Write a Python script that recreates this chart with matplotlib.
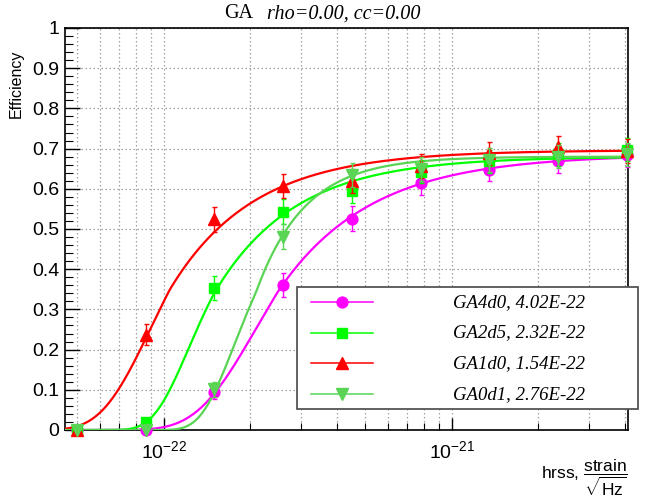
import math
import numpy as np
import matplotlib
matplotlib.use("Agg")
import matplotlib.pyplot as plt
from matplotlib.ticker import LogLocator, FixedLocator, MultipleLocator, FuncFormatter, NullFormatter
from matplotlib.patches import Rectangle
from matplotlib.lines import Line2D

# ---------------- data ----------------
hrss = [5.0e-23, 8.66e-23, 1.5e-22, 2.6e-22, 4.5e-22, 7.79e-22, 1.35e-21, 2.34e-21, 4.05e-21]

series_names = ["GA4d0", "GA2d5", "GA1d0", "GA0d1"]
hrss50_text = ["4.02E-22", "2.32E-22", "1.54E-22", "2.76E-22"]

eff_GA4d0 = [0.0, 0.0, 0.094, 0.361, 0.525, 0.615, 0.648, 0.668, 0.683]
err_GA4d0 = [0.0, 0.0, 0.018, 0.029, 0.031, 0.030, 0.029, 0.029, 0.029]
eff_GA2d5 = [0.0, 0.019, 0.353, 0.543, 0.595, 0.643, 0.668, 0.686, 0.697]
err_GA2d5 = [0.0, 0.009, 0.029, 0.031, 0.030, 0.029, 0.029, 0.029, 0.029]
eff_GA1d0 = [0.0, 0.237, 0.524, 0.608, 0.619, 0.657, 0.688, 0.703, 0.694]
err_GA1d0 = [0.0, 0.026, 0.031, 0.030, 0.030, 0.029, 0.029, 0.028, 0.029]
eff_GA0d1 = [0.0, 0.0, 0.101, 0.481, 0.634, 0.649, 0.672, 0.680, 0.686]
err_GA0d1 = [0.0, 0.0, 0.019, 0.031, 0.030, 0.030, 0.029, 0.029, 0.029]

# fit parameters (plateau, log10 centre, lower width, lower width slope, upper tail width)
fit_plateau = [0.685, 0.680, 0.696, 0.680]
fit_center = [-21.605, -21.825, -21.980, -21.681]
fit_sig_lo = [0.235, 0.200, 0.200, 0.175]
fit_k_lo = [0.8, 2.0, 1.0, 2.0]
fit_sig_hi = [0.32, 0.28, 0.29, 0.17]

colors = ["#ff00ff", "#00ff00", "#ff0000", "#59d454"]
markers = ["o", "s", "^", "v"]
msizes = [7.8, 7.0, 8.0, 8.0]

effs = [eff_GA4d0, eff_GA2d5, eff_GA1d0, eff_GA0d1]
errs = [err_GA4d0, err_GA2d5, err_GA1d0, err_GA0d1]

title_main = "GA"
title_sub = "rho=0.00, cc=0.00"
ylabel = "Efficiency"

# ---------------- style ----------------
plt.rcParams['font.family'] = ['Liberation Sans', 'DejaVu Sans']
plt.rcParams['mathtext.fontset'] = 'custom'
plt.rcParams['mathtext.rm'] = 'Liberation Sans'
plt.rcParams['mathtext.it'] = 'Liberation Sans:italic'
plt.rcParams['mathtext.bf'] = 'Liberation Sans:bold'

W, H = 649, 501
fig = plt.figure(figsize=(W / 100, H / 100), dpi=100)
fig.patch.set_facecolor('white')

L, R, T, B = 65, 627.5, 28, 430
ax = fig.add_axes([L / W, 1 - B / H, (R - L) / W, (B - T) / H])

xmin, xmax = 4.54e-23, 4.077e-21
ax.set_xscale('log')
ax.set_xlim(xmin, xmax)
ax.set_ylim(0, 1)

# grid
grid_kw = dict(color='#a0a0a0', linestyle=(0, (1.2, 2.0)), linewidth=0.9)
ax.xaxis.set_major_locator(FixedLocator([1e-22, 1e-21]))
ax.xaxis.set_minor_locator(LogLocator(base=10, subs=np.arange(2, 10)))
ax.xaxis.set_minor_formatter(NullFormatter())
ax.xaxis.set_major_formatter(FuncFormatter(lambda v, p: r'$10^{%d}$' % int(round(math.log10(v)))))
ax.yaxis.set_major_locator(MultipleLocator(0.1))
ax.yaxis.set_minor_locator(MultipleLocator(0.02))
ax.yaxis.set_major_formatter(FuncFormatter(lambda v, p: '%g' % round(v, 2)))
ax.grid(True, which='both', axis='x', **grid_kw)
ax.grid(True, which='major', axis='y', **grid_kw)
ax.set_axisbelow(True)

ax.tick_params(axis='both', which='both', direction='in', top=False, right=False, colors='black')
ax.tick_params(axis='y', which='major', length=11, width=1.0, pad=4, labelsize=14)
ax.tick_params(axis='y', which='minor', length=5.5, width=0.8)
ax.tick_params(axis='x', which='major', length=9, width=1.0, pad=7, labelsize=14)
ax.tick_params(axis='x', which='minor', length=5, width=0.8)
for s in ax.spines.values():
    s.set_linewidth(1.2)
    s.set_color('black')

# ---------------- fit curves ----------------
def phi(z):
    return 0.5 * (1.0 + np.vectorize(math.erf)(z / math.sqrt(2.0)))

def fit_curve(u, P, u0, s_lo, k_lo, s_hi):
    y = u - u0
    out = np.empty_like(y)
    lo = y < 0
    out[lo] = P * phi(y[lo] / (s_lo * np.exp(k_lo * y[lo])))
    out[~lo] = P * (1.0 - 0.5 * np.exp(-y[~lo] / s_hi))
    return out

u = np.linspace(math.log10(xmin), math.log10(xmax), 600)
xs = 10 ** u

for i in range(4):
    yfit = fit_curve(u, fit_plateau[i], fit_center[i], fit_sig_lo[i], fit_k_lo[i], fit_sig_hi[i])
    ax.plot(xs, yfit, color=colors[i], lw=1.6, zorder=3 + i * 0.1, clip_on=True)

for i in range(4):
    ax.errorbar(hrss, effs[i], yerr=errs[i], fmt=markers[i], color=colors[i],
                ms=msizes[i], mec=colors[i], elinewidth=1.0, capsize=1.8, capthick=1.0,
                zorder=4 + i * 0.1, clip_on=False)

# ---------------- texts ----------------
fig.text(253 / W, 1 - 14 / H, title_main, ha='right', va='center',
         family='Liberation Serif', fontsize=14.5)
fig.text(267 / W, 1 - 14 / H, title_sub, ha='left', va='center',
         family='Liberation Serif', style='italic', fontsize=14.5)

fig.text(16 / W, 1 - 84 / H, ylabel, rotation=90, ha='center', va='center', fontsize=11.5)

fig.text(R / W, 1 - 478 / H, r'hrss, $\dfrac{\mathrm{strain}}{\sqrt{\mathrm{Hz}}}$',
         ha='right', va='center', fontsize=12.5)

# ---------------- legend ----------------
lx0, lx1, ly0, ly1 = 297, 638, 287, 409
fig.add_artist(Rectangle((lx0 / W, 1 - ly1 / H), (lx1 - lx0) / W, (ly1 - ly0) / H,
                         transform=fig.transFigure, facecolor='white',
                         edgecolor='#555555', lw=1.3, zorder=10))
row_y = [302.3, 332.7, 363.3, 394.3]
for i in range(4):
    yy = 1 - row_y[i] / H
    fig.add_artist(Line2D([311 / W, 373 / W], [yy, yy], transform=fig.transFigure,
                          color=colors[i], lw=1.1, zorder=11))
    fig.add_artist(Line2D([342 / W], [yy], transform=fig.transFigure, marker=markers[i],
                          ms=msizes[i], color=colors[i], mec=colors[i], lw=0, zorder=12))
    fig.text(453 / W, yy, "%s, %s" % (series_names[i], hrss50_text[i]), ha='left', va='center',
             family='Liberation Serif', style='italic', fontsize=13.5, zorder=12)

fig.savefig("out.png", dpi=100)
